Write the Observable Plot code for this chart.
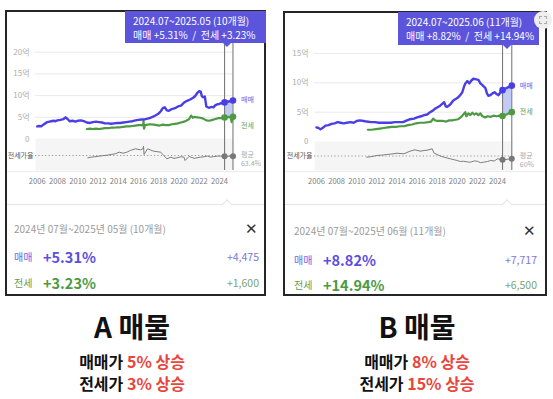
<!DOCTYPE html>
<html><head><meta charset="utf-8">
<script src="https://cdn.jsdelivr.net/npm/d3@7"></script>
<script src="https://cdn.jsdelivr.net/npm/@observablehq/plot@0.6"></script>
<style>
body{margin:0;background:#fff;}
#root{position:relative;width:553px;height:399px;overflow:hidden;font-family:"Noto Sans CJK KR","Noto Sans",sans-serif;background:#fff;}
.abs{position:absolute;white-space:nowrap;}
.panel{position:absolute;border:2px solid #262626;box-sizing:border-box;background:#fff;}
.tip{position:absolute;background:#5c55dc;color:#fff;font-size:10px;line-height:14px;padding:3px 0 0 8px;box-sizing:border-box;}
.tip:after{content:"";position:absolute;bottom:-4px;left:var(--px);margin-left:-4px;border-left:4px solid transparent;border-right:4px solid transparent;border-top:4px solid #5c55dc;}
.hline{position:absolute;height:1px;background:#ececec;}
.notch{position:absolute;width:7px;height:7px;background:#fff;border-left:1px solid #e4e4e4;border-top:1px solid #e4e4e4;transform:rotate(45deg);}
.mid{transform:translateY(-50%);}
.cap{position:absolute;transform:translate(-50%,-50%);font-weight:700;color:#111;white-space:nowrap;text-align:center;}
.red{color:#e8453c;}
svg{position:absolute;}
</style></head><body><div id="root"></div>
<script>
// ---------- data ----------
const yearTicks = [2006,2008,2010,2012,2014,2016,2018,2020,2022,2024];
const aPriceTicks = [0,5,10,15,20];
const bPriceTicks = [0,5,10,15];

// Panel A : 매매 (억)
const aSaleYears = [2006.0,2006.2,2006.4,2006.6,2006.8,2007.0,2007.2,2007.4,2007.6,2007.8,2008.0,2008.3,2008.6,2008.8,2009.0,2009.2,2009.5,2009.8,2010.0,2010.3,2010.6,2010.9,2011.2,2011.5,2011.8,2012.1,2012.4,2012.7,2013.0,2013.3,2013.6,2013.9,2014.2,2014.5,2014.8,2015.1,2015.4,2015.7,2016.0,2016.3,2016.6,2016.9,2017.2,2017.5,2017.8,2018.0,2018.2,2018.4,2018.6,2018.8,2019.0,2019.3,2019.6,2019.9,2020.2,2020.5,2020.8,2021.1,2021.4,2021.6,2021.8,2022.0,2022.15,2022.25,2022.4,2022.55,2022.7,2022.85,2023.0,2023.2,2023.4,2023.6,2023.8,2024.0,2024.2,2024.35,2024.5,2024.7,2024.9,2025.1,2025.33];
const aSale      = [2.9,3.0,2.9,3.3,3.6,3.9,4.0,4.1,4.2,4.1,4.3,4.4,4.6,5.0,4.6,4.1,4.2,4.0,4.2,4.3,4.1,3.8,3.7,3.9,4.0,3.9,3.8,3.6,3.6,3.5,3.6,3.7,3.7,3.8,3.9,4.0,4.1,4.3,4.4,4.5,4.5,4.7,4.9,5.2,5.6,5.9,6.4,7.1,7.3,6.6,6.5,6.9,7.1,7.5,7.7,8.4,8.8,9.1,9.5,9.9,10.6,11.0,10.9,9.9,9.6,9.8,7.5,7.3,7.2,7.4,7.3,7.8,8.0,8.1,8.3,8.2,8.43,8.7,8.6,8.8,8.88];
// Panel A : 전세 (억)
const aJeonseYears = [2010.9,2011.2,2011.5,2011.8,2012.1,2012.4,2012.7,2013.0,2013.3,2013.6,2013.9,2014.2,2014.5,2014.8,2015.1,2015.4,2015.7,2016.0,2016.3,2016.45,2016.5,2016.55,2016.65,2016.9,2017.2,2017.5,2017.8,2018.1,2018.4,2018.7,2019.0,2019.3,2019.6,2019.9,2020.2,2020.5,2020.8,2021.0,2021.2,2021.35,2021.5,2021.8,2022.1,2022.4,2022.7,2023.0,2023.3,2023.6,2023.9,2024.2,2024.5,2024.7,2024.9,2025.1,2025.2,2025.33];
const aJeonse      = [2.3,2.4,2.3,2.4,2.3,2.4,2.5,2.5,2.6,2.6,2.7,2.7,2.8,2.9,2.9,3.0,3.1,3.2,3.2,3.1,4.1,2.4,3.2,3.3,3.4,3.3,3.2,3.1,3.3,3.2,3.2,3.4,3.5,3.6,3.8,4.0,4.3,4.6,5.4,4.9,5.1,5.0,4.9,4.7,4.3,4.2,4.4,4.6,4.8,4.8,4.95,5.0,5.1,5.0,3.9,5.11];
// Panel A : 전세가율 (%)
const aRatioYears = [2011.0,2011.4,2011.9,2012.4,2012.9,2013.3,2013.7,2014.1,2014.5,2014.9,2015.2,2015.7,2016.2,2016.45,2016.5,2016.55,2016.9,2017.2,2017.5,2018.2,2018.5,2018.8,2019.2,2019.5,2019.8,2020.2,2020.5,2020.6,2021.0,2021.5,2022.1,2022.5,2022.8,2023.1,2023.4,2023.8,2024.1,2024.5,2025.33];
const aRatio      = [59.8,61.0,61.9,63.0,63.9,65.0,66.1,68.6,67.0,69.0,71.3,73.9,72.3,74.0,78.0,65.0,73.9,72.0,70.2,68.6,63.4,58.3,60.8,59.0,59.8,61.5,60.8,55.6,62.0,59.0,60.8,61.5,62.5,61.0,61.5,62.5,62.5,62.3,62.3];
const aPeriod = [2024.5, 2025.33];
const aAvgRatio = 63.4;

// Panel B : 매매 (억)
const bSaleYears = [2006.0,2006.2,2006.4,2006.6,2006.9,2007.2,2007.5,2007.8,2008.1,2008.4,2008.7,2009.0,2009.4,2009.7,2010.0,2010.3,2010.7,2011.0,2011.4,2011.8,2012.2,2012.6,2013.0,2013.4,2013.8,2014.2,2014.6,2015.0,2015.3,2015.7,2016.0,2016.4,2016.7,2017.0,2017.3,2017.6,2017.8,2018.0,2018.3,2018.5,2018.7,2018.85,2019.0,2019.3,2019.6,2019.8,2020.0,2020.3,2020.5,2020.7,2020.8,2021.0,2021.2,2021.4,2021.6,2021.9,2022.1,2022.3,2022.5,2022.8,2022.95,2023.1,2023.3,2023.5,2023.7,2023.9,2024.1,2024.3,2024.5,2024.7,2024.9,2025.1,2025.3,2025.42];
const bSale      = [2.4,2.3,2.1,2.3,2.7,2.8,3.0,3.1,3.3,3.2,3.1,3.2,3.3,3.2,3.5,3.6,3.5,3.4,3.3,3.3,3.2,3.2,3.2,3.2,3.3,3.3,3.3,3.6,3.8,3.9,4.1,4.3,4.5,4.6,5.0,5.3,5.6,5.8,6.1,6.4,6.7,6.0,5.9,6.3,7.0,7.2,7.4,7.9,8.4,9.5,9.9,10.3,9.9,10.4,10.7,10.6,10.5,9.9,9.6,9.1,8.2,7.8,7.9,8.2,8.4,8.1,7.9,8.4,8.75,9.0,9.1,9.3,9.4,9.52];
// Panel B : 전세 (억)
const bJeonseYears = [2011.1,2011.5,2011.9,2012.3,2012.7,2013.1,2013.5,2013.9,2014.3,2014.7,2015.1,2015.5,2015.9,2016.3,2016.7,2017.1,2017.4,2017.6,2017.8,2018.0,2018.3,2018.6,2018.9,2019.2,2019.5,2019.8,2020.1,2020.4,2020.6,2020.8,2020.9,2021.1,2021.3,2021.5,2021.7,2021.9,2022.1,2022.3,2022.5,2022.8,2023.0,2023.3,2023.6,2023.9,2024.2,2024.5,2024.7,2024.9,2025.1,2025.3,2025.42];
const bJeonse      = [2.0,2.0,2.1,2.2,2.3,2.4,2.5,2.5,2.6,2.6,2.8,2.9,3.1,3.2,3.2,3.3,3.4,3.9,3.6,3.5,3.5,3.5,3.4,3.6,3.6,3.7,3.8,4.2,4.6,5.0,4.3,4.8,4.5,4.9,4.6,4.8,4.5,4.8,4.3,4.1,4.3,4.2,4.4,4.3,4.4,4.35,4.5,4.6,4.8,4.9,5.0];
// Panel B : 전세가율 (%)
const bRatioYears = [2011.0,2011.5,2012.0,2012.5,2013.0,2013.5,2014.0,2014.7,2015.3,2015.8,2016.3,2016.7,2017.0,2017.5,2017.7,2018.0,2018.4,2018.7,2019.0,2019.3,2019.7,2020.0,2020.3,2020.6,2021.0,2021.3,2021.7,2022.0,2022.3,2022.6,2023.0,2023.3,2023.7,2024.0,2024.5,2025.42];
const bRatio      = [57.9,59.0,60.9,61.5,62.6,63.5,64.8,63.8,68.3,70.7,68.3,69.5,70.0,72.4,64.8,62.6,59.5,57.9,56.5,55.2,53.5,52.2,50.5,51.0,49.8,49.3,51.5,51.0,48.5,49.3,50.5,52.2,51.5,55.2,53.4,55.2];
const bPeriod = [2024.5, 2025.42];
const bAvgRatio = 60;

// ---------- layout ----------
const BLUE = "#4a3ee6", GREEN = "#4e9a44";
const root = document.getElementById("root");
function el(tag, cls, style, html){const e=document.createElement(tag); if(cls) e.className=cls; Object.assign(e.style, style||{}); if(html!=null) e.innerHTML=html; root.appendChild(e); return e;}
const toXY = (xs, ys) => xs.map((x,i)=>({x, y:ys[i]}));

function panel(c){
  el("div","panel",{left:c.px+"px",top:c.py+"px",width:c.pw+"px",height:c.ph+"px"});
  const sale = toXY(c.saleYears, c.sale), jeonse = toXY(c.jeonseYears, c.jeonse), ratio = toXY(c.ratioYears, c.ratio);
  const inP = d => c.period.includes(d.x);
  const hl = sale.filter(d => d.x >= c.period[0] && d.x <= c.period[1]).map(d => {const j = jeonse.find(e => e.x === d.x); return j ? {x:d.x, y1:j.y, y2:d.y} : null;}).filter(Boolean);
  const common = {width:c.sw, height:c.sh, marginLeft:c.ml, marginRight:c.mr,
    style:{fontFamily:'"Noto Sans CJK KR","Noto Sans",sans-serif', fontSize:"8px", background:"transparent", overflow:"visible"}};
  const xs = {domain:[2006,2024], range:c.xRange};
  // ratio band plot
  const rp = Plot.plot({...common, marginTop:c.bandTop, marginBottom:c.sh-c.bandBottom,
    x:{...xs, axis:null}, y:{domain:c.ratioDomain, axis:null},
    marks:[
      Plot.frame({fill:"#f5f5f5", stroke:null}),
      Plot.ruleY([c.avg], {stroke:"#9a9a9a", strokeDasharray:"1.2,2.2", strokeWidth:1}),
      Plot.axisY([c.avg], {tickSize:0, tickPadding:2, tickFormat:()=>"전세가율", fill:"#555", fontSize:7, label:null}),
      Plot.line(ratio, {x:"x", y:"y", stroke:"#7d7d7d", strokeWidth:1}),
      Plot.dot(ratio.filter(inP), {x:"x", y:"y", r:3, fill:"#777"}),
      Plot.text(ratio.slice(-1), {x:"x", y:"y", text:()=>"평균", dx:8, dy:c.ratioDy-4, textAnchor:"start", fill:"#aaa", fontSize:7}),
      Plot.text(ratio.slice(-1), {x:"x", y:"y", text:()=>c.avgLabel, dx:8, dy:c.ratioDy+5, textAnchor:"start", fill:"#aaa", fontSize:7})
    ]});
  rp.style.left = c.sx+"px"; rp.style.top = c.sy+"px"; root.appendChild(rp);
  // band bottom line
  el("div","hline",{left:(c.px+2)+"px",top:(c.sy+c.bandBottom+1)+"px",width:(c.pw-4)+"px"});
  // main price plot
  const mp = Plot.plot({...common, marginTop:c.mt, marginBottom:c.sh-c.bandBottom,
    x:{...xs}, y:{domain:c.yDomain, range:c.yRange},
    marks:[
      Plot.gridY(c.priceTicks.filter(d=>d>0), {stroke:"#e9e9e9", strokeOpacity:1}),
      Plot.axisY(c.priceTicks, {tickSize:0, tickPadding:6, tickFormat:d=>d===0?"0":d+"억", fill:"#adadad", fontSize:8, label:null}),
      Plot.axisX(yearTicks, {tickSize:0, tickPadding:8, tickFormat:"d", fill:"#808080", fontSize:7.6, label:null}),
      Plot.areaY(hl, {x:"x", y1:"y1", y2:"y2", fill:"#b7c1f6", fillOpacity:0.85}),
      Plot.ruleX(c.period, {stroke:"#7a7a7a", strokeWidth:1.1}),
      Plot.line(jeonse, {x:"x", y:"y", stroke:GREEN, strokeWidth:2.2}),
      Plot.line(sale, {x:"x", y:"y", stroke:BLUE, strokeWidth:2.4}),
      Plot.dot(sale.filter(inP), {x:"x", y:"y", r:3.3, fill:BLUE}),
      Plot.dot(jeonse.filter(inP), {x:"x", y:"y", r:3.3, fill:GREEN}),
      Plot.text(sale.slice(-1), {x:"x", y:"y", text:()=>"매매", dx:8, dy:c.saleDy, textAnchor:"start", fill:"#6a62e4", fontSize:7}),
      Plot.text(jeonse.slice(-1), {x:"x", y:"y", text:()=>"전세", dx:8, dy:c.jeonseDy, textAnchor:"start", fill:"#5a9a52", fontSize:7})
    ]});
  mp.style.left = c.sx+"px"; mp.style.top = c.sy+"px"; root.appendChild(mp);
  // tooltip
  const t = el("div","tip",{left:c.tip[0]+"px",top:c.tip[1]+"px",width:c.tip[2]+"px",height:c.tip[3]+"px"},
    c.tipLine1+"<br>"+c.tipLine2);
  t.style.setProperty("--px", (c.pointerX - c.tip[0])+"px");
  // info separator + notch
  el("div","hline",{left:(c.px+2)+"px",top:c.sep+"px",width:(c.pw-4)+"px",background:"#e6e6e6"});
  el("div","notch",{left:(c.pointerX-4)+"px",top:(c.sep-3)+"px"});
  // info rows
  el("div","abs mid",{left:c.infoX+"px",top:c.rows[0]+"px",fontSize:"10px",color:"#9a9a9a"}, c.infoHead);
  el("div","abs mid",{left:(c.closeX-6)+"px",top:(c.rows[0]-1)+"px",fontSize:"15px",color:"#333",fontWeight:300}, "✕");
  el("div","abs mid",{left:c.infoX+"px",top:c.rows[1]+"px",fontSize:"10px",color:"#6c64e6"}, "매매");
  el("div","abs mid",{left:(c.infoX+29)+"px",top:c.rows[1]+"px",fontSize:"14.5px",color:"#5a4fe0",fontWeight:700}, c.salePct);
  el("div","abs mid",{right:(553-c.valRight)+"px",top:c.rows[1]+"px",fontSize:"10.5px",color:"#7c76dc"}, c.saleAmt);
  el("div","abs mid",{left:c.infoX+"px",top:c.rows[2]+"px",fontSize:"10px",color:"#5b9b52"}, "전세");
  el("div","abs mid",{left:(c.infoX+29)+"px",top:c.rows[2]+"px",fontSize:"14.5px",color:"#4c9a44",fontWeight:700}, c.jeonsePct);
  el("div","abs mid",{right:(553-c.valRight)+"px",top:c.rows[2]+"px",fontSize:"10.5px",color:"#7da274"}, c.jeonseAmt);
  // captions
  el("div","cap",{left:c.capX+"px",top:"326px",fontSize:"28px",lineHeight:"32px"}, c.title);
  el("div","cap",{left:c.capX+"px",top:"361px",fontSize:"16px",lineHeight:"18px"}, c.sub1);
  el("div","cap",{left:c.capX+"px",top:"383px",fontSize:"16px",lineHeight:"18px"}, c.sub2);
}

panel({px:5, py:10, pw:261, ph:286, sx:7, sy:12, sw:257, sh:180,
  ml:28, mr:31, mt:31, bandTop:126, bandBottom:158,
  xRange:[29.7,212], yDomain:[0,20], yRange:[126.5,39.7], priceTicks:aPriceTicks,
  ratioDomain:[40,90], avg:aAvgRatio, avgLabel:"63.4%", ratioDy:3,
  saleYears:aSaleYears, sale:aSale, jeonseYears:aJeonseYears, jeonse:aJeonse, ratioYears:aRatioYears, ratio:aRatio,
  period:aPeriod, saleDy:-1, jeonseDy:9,
  tip:[125,11,141,32], pointerX:227,
  tipLine1:"2024.07~2025.05 (10개월)", tipLine2:"매매 +5.31%&nbsp; / &nbsp;전세 +3.23%",
  sep:204, infoX:14, closeX:251, valRight:259, rows:[228,256,282],
  infoHead:"2024년 07월~2025년 05월 (10개월)", salePct:"+5.31%", saleAmt:"+4,475", jeonsePct:"+3.23%", jeonseAmt:"+1,600",
  capX:132, title:"A 매물",
  sub1:'매매가 <span class="red">5% 상승</span>', sub2:'전세가 <span class="red">3% 상승</span>'});

panel({px:283, py:11, pw:264, ph:285, sx:285, sy:13, sw:260, sh:180,
  ml:29, mr:33, mt:32, bandTop:128, bandBottom:157,
  xRange:[31,212], yDomain:[0,15], yRange:[128,40], priceTicks:bPriceTicks,
  ratioDomain:[35,85], avg:bAvgRatio, avgLabel:"60%", ratioDy:1,
  saleYears:bSaleYears, sale:bSale, jeonseYears:bJeonseYears, jeonse:bJeonse, ratioYears:bRatioYears, ratio:bRatio,
  period:bPeriod, saleDy:0, jeonseDy:0,
  tip:[398,12,141,33], pointerX:507,
  tipLine1:"2024.07~2025.06 (11개월)", tipLine2:"매매 +8.82%&nbsp; / &nbsp;전세 +14.94%",
  sep:204, infoX:294, closeX:529, valRight:537, rows:[230,259,284],
  infoHead:"2024년 07월~2025년 06월 (11개월)", salePct:"+8.82%", saleAmt:"+7,717", jeonsePct:"+14.94%", jeonseAmt:"+6,500",
  capX:417, title:"B 매물",
  sub1:'매매가 <span class="red">8% 상승</span>', sub2:'전세가 <span class="red">15% 상승</span>'});

// small capture icon at top-right of panel B
el("div","abs",{left:"534px",top:"11px",width:"18px",height:"18px",borderRadius:"50%",background:"#efefef"});
el("div","abs",{left:"539px",top:"16px",width:"8px",height:"8px",border:"1px dashed #aaa",boxSizing:"border-box"});
</script></body></html>
